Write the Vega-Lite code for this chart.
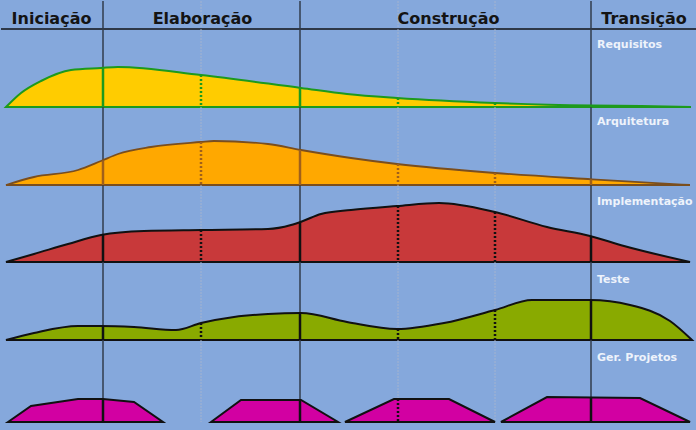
{
  "$schema": "https://vega.github.io/schema/vega-lite/v6.json",
  "background": "#85a8dc",
  "padding": {"left": 0, "right": 0, "top": 0, "bottom": 9},
  "autosize": {"type": "pad"},
  "spacing": 0,
  "bounds": "flush",
  "config": {"view": {"stroke": null}, "concat": {"spacing": 0}},
  "datasets": {
    "lines": [
      {"x": 102, "kind": "phase"}, {"x": 299, "kind": "phase"}, {"x": 590, "kind": "phase"},
      {"x": 200, "kind": "iter"}, {"x": 397, "kind": "iter"}, {"x": 494, "kind": "iter"}
    ],
    "phases": [
      {"name": "Iniciação", "x": 50.5},
      {"name": "Elaboração", "x": 201.5},
      {"name": "Construção", "x": 447.5},
      {"name": "Transição", "x": 643}
    ],
    "curves": [
      {"d": "Requisitos", "g": 1, "x": 5, "h": 0},
      {"d": "Requisitos", "g": 1, "x": 20, "h": 14},
      {"d": "Requisitos", "g": 1, "x": 40, "h": 26},
      {"d": "Requisitos", "g": 1, "x": 70, "h": 37},
      {"d": "Requisitos", "g": 1, "x": 100, "h": 39},
      {"d": "Requisitos", "g": 1, "x": 117, "h": 40},
      {"d": "Requisitos", "g": 1, "x": 200, "h": 32},
      {"d": "Requisitos", "g": 1, "x": 300, "h": 19},
      {"d": "Requisitos", "g": 1, "x": 346, "h": 13},
      {"d": "Requisitos", "g": 1, "x": 396, "h": 9},
      {"d": "Requisitos", "g": 1, "x": 494, "h": 4},
      {"d": "Requisitos", "g": 1, "x": 591, "h": 1.5},
      {"d": "Requisitos", "g": 1, "x": 640, "h": 1},
      {"d": "Requisitos", "g": 1, "x": 690, "h": 0},
      {"d": "Arquitetura", "g": 1, "x": 5, "h": 0},
      {"d": "Arquitetura", "g": 1, "x": 33, "h": 8},
      {"d": "Arquitetura", "g": 1, "x": 77, "h": 15},
      {"d": "Arquitetura", "g": 1, "x": 100, "h": 24},
      {"d": "Arquitetura", "g": 1, "x": 117, "h": 31},
      {"d": "Arquitetura", "g": 1, "x": 150, "h": 38},
      {"d": "Arquitetura", "g": 1, "x": 200, "h": 43},
      {"d": "Arquitetura", "g": 1, "x": 213, "h": 44},
      {"d": "Arquitetura", "g": 1, "x": 267, "h": 41},
      {"d": "Arquitetura", "g": 1, "x": 300, "h": 35},
      {"d": "Arquitetura", "g": 1, "x": 350, "h": 27},
      {"d": "Arquitetura", "g": 1, "x": 396, "h": 21},
      {"d": "Arquitetura", "g": 1, "x": 494, "h": 12},
      {"d": "Arquitetura", "g": 1, "x": 591, "h": 5.7},
      {"d": "Arquitetura", "g": 1, "x": 689, "h": 0},
      {"d": "Implementação", "g": 1, "x": 5, "h": 0},
      {"d": "Implementação", "g": 1, "x": 33, "h": 8},
      {"d": "Implementação", "g": 1, "x": 67, "h": 18},
      {"d": "Implementação", "g": 1, "x": 100, "h": 27},
      {"d": "Implementação", "g": 1, "x": 143, "h": 31},
      {"d": "Implementação", "g": 1, "x": 200, "h": 32},
      {"d": "Implementação", "g": 1, "x": 267, "h": 33},
      {"d": "Implementação", "g": 1, "x": 290, "h": 37},
      {"d": "Implementação", "g": 1, "x": 302, "h": 41},
      {"d": "Implementação", "g": 1, "x": 320, "h": 48},
      {"d": "Implementação", "g": 1, "x": 350, "h": 52},
      {"d": "Implementação", "g": 1, "x": 396, "h": 56},
      {"d": "Implementação", "g": 1, "x": 438, "h": 59},
      {"d": "Implementação", "g": 1, "x": 494, "h": 50},
      {"d": "Implementação", "g": 1, "x": 546, "h": 35},
      {"d": "Implementação", "g": 1, "x": 589, "h": 26},
      {"d": "Implementação", "g": 1, "x": 623, "h": 16},
      {"d": "Implementação", "g": 1, "x": 689, "h": 0},
      {"d": "Teste", "g": 1, "x": 5, "h": 0},
      {"d": "Teste", "g": 1, "x": 33, "h": 7},
      {"d": "Teste", "g": 1, "x": 77, "h": 14},
      {"d": "Teste", "g": 1, "x": 100, "h": 14},
      {"d": "Teste", "g": 1, "x": 133, "h": 13},
      {"d": "Teste", "g": 1, "x": 175, "h": 10},
      {"d": "Teste", "g": 1, "x": 200, "h": 17},
      {"d": "Teste", "g": 1, "x": 233, "h": 23},
      {"d": "Teste", "g": 1, "x": 267, "h": 26},
      {"d": "Teste", "g": 1, "x": 300, "h": 27},
      {"d": "Teste", "g": 1, "x": 346, "h": 18},
      {"d": "Teste", "g": 1, "x": 396, "h": 11},
      {"d": "Teste", "g": 1, "x": 443, "h": 17},
      {"d": "Teste", "g": 1, "x": 494, "h": 30},
      {"d": "Teste", "g": 1, "x": 531, "h": 40},
      {"d": "Teste", "g": 1, "x": 589, "h": 40},
      {"d": "Teste", "g": 1, "x": 629, "h": 35},
      {"d": "Teste", "g": 1, "x": 669, "h": 19},
      {"d": "Teste", "g": 1, "x": 691, "h": 0},
      {"d": "Ger. Projetos", "g": 1, "x": 7, "h": 0},
      {"d": "Ger. Projetos", "g": 1, "x": 30, "h": 16},
      {"d": "Ger. Projetos", "g": 1, "x": 77, "h": 23},
      {"d": "Ger. Projetos", "g": 1, "x": 102, "h": 23},
      {"d": "Ger. Projetos", "g": 1, "x": 133, "h": 20},
      {"d": "Ger. Projetos", "g": 1, "x": 162, "h": 0},
      {"d": "Ger. Projetos", "g": 2, "x": 210, "h": 0},
      {"d": "Ger. Projetos", "g": 2, "x": 240, "h": 22},
      {"d": "Ger. Projetos", "g": 2, "x": 300, "h": 22},
      {"d": "Ger. Projetos", "g": 2, "x": 337, "h": 0},
      {"d": "Ger. Projetos", "g": 3, "x": 344, "h": 0},
      {"d": "Ger. Projetos", "g": 3, "x": 393, "h": 23},
      {"d": "Ger. Projetos", "g": 3, "x": 448, "h": 23},
      {"d": "Ger. Projetos", "g": 3, "x": 494, "h": 0},
      {"d": "Ger. Projetos", "g": 4, "x": 500, "h": 0},
      {"d": "Ger. Projetos", "g": 4, "x": 546, "h": 25},
      {"d": "Ger. Projetos", "g": 4, "x": 639, "h": 24},
      {"d": "Ger. Projetos", "g": 4, "x": 689, "h": 0}
    ],
    "inner": [
      {"d": "Requisitos", "kind": "phase", "x": 102, "h": 39.2},
      {"d": "Requisitos", "kind": "phase", "x": 299, "h": 19},
      {"d": "Requisitos", "kind": "phase", "x": 590, "h": 1.5},
      {"d": "Requisitos", "kind": "iter", "x": 200, "h": 32},
      {"d": "Requisitos", "kind": "iter", "x": 397, "h": 9},
      {"d": "Requisitos", "kind": "iter", "x": 494, "h": 4},
      {"d": "Arquitetura", "kind": "phase", "x": 102, "h": 24.5},
      {"d": "Arquitetura", "kind": "phase", "x": 299, "h": 35},
      {"d": "Arquitetura", "kind": "phase", "x": 590, "h": 5.7},
      {"d": "Arquitetura", "kind": "iter", "x": 200, "h": 43},
      {"d": "Arquitetura", "kind": "iter", "x": 397, "h": 21},
      {"d": "Arquitetura", "kind": "iter", "x": 494, "h": 12},
      {"d": "Implementação", "kind": "phase", "x": 102, "h": 27.3},
      {"d": "Implementação", "kind": "phase", "x": 299, "h": 40},
      {"d": "Implementação", "kind": "phase", "x": 590, "h": 26},
      {"d": "Implementação", "kind": "iter", "x": 200, "h": 32},
      {"d": "Implementação", "kind": "iter", "x": 397, "h": 56},
      {"d": "Implementação", "kind": "iter", "x": 494, "h": 50},
      {"d": "Teste", "kind": "phase", "x": 102, "h": 14},
      {"d": "Teste", "kind": "phase", "x": 299, "h": 27},
      {"d": "Teste", "kind": "phase", "x": 590, "h": 40},
      {"d": "Teste", "kind": "iter", "x": 200, "h": 17},
      {"d": "Teste", "kind": "iter", "x": 397, "h": 11},
      {"d": "Teste", "kind": "iter", "x": 494, "h": 30},
      {"d": "Ger. Projetos", "kind": "phase", "x": 102, "h": 23},
      {"d": "Ger. Projetos", "kind": "phase", "x": 299, "h": 22},
      {"d": "Ger. Projetos", "kind": "phase", "x": 590, "h": 24},
      {"d": "Ger. Projetos", "kind": "iter", "x": 397, "h": 23}
    ]
  },
  "vconcat": [
    {
      "width": 696, "height": 28,
      "layer": [
        {"data": {"name": "lines"}, "transform": [{"filter": "datum.kind == 'iter'"}],
         "mark": {"type": "rule", "color": "#a3b3cf", "strokeWidth": 1, "strokeDash": [2, 1]},
         "encoding": {"x": {"field": "x", "type": "quantitative", "scale": {"domain": [0, 696], "nice": false}, "axis": null}}},
        {"data": {"name": "lines"}, "transform": [{"filter": "datum.kind == 'phase'"}],
         "mark": {"type": "rule", "color": "#323c4c", "strokeWidth": 1.5},
         "encoding": {"x": {"field": "x", "type": "quantitative", "scale": {"domain": [0, 696], "nice": false}, "axis": null}}},
        {"data": {"values": [{"b": 0}]},
         "mark": {"type": "rule", "color": "#2e3848", "strokeWidth": 2},
         "encoding": {"y": {"field": "b", "type": "quantitative", "scale": {"domain": [0, 28], "nice": false}, "axis": null}}},
        {"data": {"name": "phases"},
         "mark": {"type": "text", "font": "DejaVu Sans", "fontWeight": "bold", "fontSize": 16, "color": "#141414", "baseline": "alphabetic", "align": "center"},
         "encoding": {"x": {"field": "x", "type": "quantitative", "scale": {"domain": [0, 696], "nice": false}, "axis": null},
                      "y": {"datum": 5, "type": "quantitative", "scale": {"domain": [0, 28], "nice": false}, "axis": null},
                      "text": {"field": "name", "type": "nominal"}}}
      ]
    },
    {
      "width": 696, "height": 78,
      "layer": [
        {"data": {"name": "lines"}, "transform": [{"filter": "datum.kind == 'iter'"}],
         "mark": {"type": "rule", "color": "#a3b3cf", "strokeWidth": 1, "strokeDash": [2, 1]},
         "encoding": {"x": {"field": "x", "type": "quantitative", "scale": {"domain": [0, 696], "nice": false}, "axis": null}}},
        {"data": {"name": "lines"}, "transform": [{"filter": "datum.kind == 'phase'"}],
         "mark": {"type": "rule", "color": "#323c4c", "strokeWidth": 1.5},
         "encoding": {"x": {"field": "x", "type": "quantitative", "scale": {"domain": [0, 696], "nice": false}, "axis": null}}},
        {"data": {"name": "curves"}, "transform": [{"filter": "datum.d == 'Requisitos'"}],
         "mark": {"type": "area", "fill": "#ffcc00", "fillOpacity": 1, "stroke": "#1d9a1d", "strokeWidth": 2, "interpolate": "monotone"},
         "encoding": {"x": {"field": "x", "type": "quantitative", "scale": {"domain": [0, 696], "nice": false}, "axis": null},
                      "y": {"field": "h", "type": "quantitative", "stack": null, "scale": {"domain": [0, 78], "nice": false}, "axis": null},
                      "detail": {"field": "g", "type": "nominal"}}},
        {"data": {"name": "inner"}, "transform": [{"filter": "datum.d == 'Requisitos' && datum.kind == 'phase'"}],
         "mark": {"type": "rule", "color": "#1d9a1d", "strokeWidth": 2.5},
         "encoding": {"x": {"field": "x", "type": "quantitative", "scale": {"domain": [0, 696], "nice": false}, "axis": null},
                      "y": {"field": "h", "type": "quantitative", "scale": {"domain": [0, 78], "nice": false}, "axis": null},
                      "y2": {"datum": 0}}},
        {"data": {"name": "inner"}, "transform": [{"filter": "datum.d == 'Requisitos' && datum.kind == 'iter'"}],
         "mark": {"type": "rule", "color": "#1d9a1d", "strokeWidth": 2.5, "strokeDash": [2, 2]},
         "encoding": {"x": {"field": "x", "type": "quantitative", "scale": {"domain": [0, 696], "nice": false}, "axis": null},
                      "y": {"field": "h", "type": "quantitative", "scale": {"domain": [0, 78], "nice": false}, "axis": null},
                      "y2": {"datum": 0}}},
        {"data": {"values": [{"label": "Requisitos", "x": 590, "y": 62}]},
         "mark": {"type": "text", "font": "DejaVu Sans", "fontWeight": "bold", "fontSize": 11, "color": "#eef3fb", "align": "left", "baseline": "middle", "dx": 6},
         "encoding": {"x": {"field": "x", "type": "quantitative", "scale": {"domain": [0, 696], "nice": false}, "axis": null},
                      "y": {"field": "y", "type": "quantitative", "scale": {"domain": [0, 78], "nice": false}, "axis": null},
                      "text": {"field": "label", "type": "nominal"}}}
      ]
    },
    {
      "width": 696, "height": 78,
      "layer": [
        {"data": {"name": "lines"}, "transform": [{"filter": "datum.kind == 'iter'"}],
         "mark": {"type": "rule", "color": "#a3b3cf", "strokeWidth": 1, "strokeDash": [2, 1]},
         "encoding": {"x": {"field": "x", "type": "quantitative", "scale": {"domain": [0, 696], "nice": false}, "axis": null}}},
        {"data": {"name": "lines"}, "transform": [{"filter": "datum.kind == 'phase'"}],
         "mark": {"type": "rule", "color": "#323c4c", "strokeWidth": 1.5},
         "encoding": {"x": {"field": "x", "type": "quantitative", "scale": {"domain": [0, 696], "nice": false}, "axis": null}}},
        {"data": {"name": "curves"}, "transform": [{"filter": "datum.d == 'Arquitetura'"}],
         "mark": {"type": "area", "fill": "#ffa800", "fillOpacity": 1, "stroke": "#7a4e1e", "strokeWidth": 1.8, "interpolate": "monotone"},
         "encoding": {"x": {"field": "x", "type": "quantitative", "scale": {"domain": [0, 696], "nice": false}, "axis": null},
                      "y": {"field": "h", "type": "quantitative", "stack": null, "scale": {"domain": [0, 78], "nice": false}, "axis": null},
                      "detail": {"field": "g", "type": "nominal"}}},
        {"data": {"name": "inner"}, "transform": [{"filter": "datum.d == 'Arquitetura' && datum.kind == 'phase'"}],
         "mark": {"type": "rule", "color": "#a0601a", "strokeWidth": 2.5},
         "encoding": {"x": {"field": "x", "type": "quantitative", "scale": {"domain": [0, 696], "nice": false}, "axis": null},
                      "y": {"field": "h", "type": "quantitative", "scale": {"domain": [0, 78], "nice": false}, "axis": null},
                      "y2": {"datum": 0}}},
        {"data": {"name": "inner"}, "transform": [{"filter": "datum.d == 'Arquitetura' && datum.kind == 'iter'"}],
         "mark": {"type": "rule", "color": "#a0601a", "strokeWidth": 2.5, "strokeDash": [2, 2]},
         "encoding": {"x": {"field": "x", "type": "quantitative", "scale": {"domain": [0, 696], "nice": false}, "axis": null},
                      "y": {"field": "h", "type": "quantitative", "scale": {"domain": [0, 78], "nice": false}, "axis": null},
                      "y2": {"datum": 0}}},
        {"data": {"values": [{"label": "Arquitetura", "x": 590, "y": 63}]},
         "mark": {"type": "text", "font": "DejaVu Sans", "fontWeight": "bold", "fontSize": 11, "color": "#eef3fb", "align": "left", "baseline": "middle", "dx": 6},
         "encoding": {"x": {"field": "x", "type": "quantitative", "scale": {"domain": [0, 696], "nice": false}, "axis": null},
                      "y": {"field": "y", "type": "quantitative", "scale": {"domain": [0, 78], "nice": false}, "axis": null},
                      "text": {"field": "label", "type": "nominal"}}}
      ]
    },
    {
      "width": 696, "height": 77,
      "layer": [
        {"data": {"name": "lines"}, "transform": [{"filter": "datum.kind == 'iter'"}],
         "mark": {"type": "rule", "color": "#a3b3cf", "strokeWidth": 1, "strokeDash": [2, 1]},
         "encoding": {"x": {"field": "x", "type": "quantitative", "scale": {"domain": [0, 696], "nice": false}, "axis": null}}},
        {"data": {"name": "lines"}, "transform": [{"filter": "datum.kind == 'phase'"}],
         "mark": {"type": "rule", "color": "#323c4c", "strokeWidth": 1.5},
         "encoding": {"x": {"field": "x", "type": "quantitative", "scale": {"domain": [0, 696], "nice": false}, "axis": null}}},
        {"data": {"name": "curves"}, "transform": [{"filter": "datum.d == 'Implementação'"}],
         "mark": {"type": "area", "fill": "#c8393a", "fillOpacity": 1, "stroke": "#111111", "strokeWidth": 2, "interpolate": "monotone"},
         "encoding": {"x": {"field": "x", "type": "quantitative", "scale": {"domain": [0, 696], "nice": false}, "axis": null},
                      "y": {"field": "h", "type": "quantitative", "stack": null, "scale": {"domain": [0, 77], "nice": false}, "axis": null},
                      "detail": {"field": "g", "type": "nominal"}}},
        {"data": {"name": "inner"}, "transform": [{"filter": "datum.d == 'Implementação' && datum.kind == 'phase'"}],
         "mark": {"type": "rule", "color": "#111111", "strokeWidth": 2.5},
         "encoding": {"x": {"field": "x", "type": "quantitative", "scale": {"domain": [0, 696], "nice": false}, "axis": null},
                      "y": {"field": "h", "type": "quantitative", "scale": {"domain": [0, 77], "nice": false}, "axis": null},
                      "y2": {"datum": 0}}},
        {"data": {"name": "inner"}, "transform": [{"filter": "datum.d == 'Implementação' && datum.kind == 'iter'"}],
         "mark": {"type": "rule", "color": "#111111", "strokeWidth": 2.5, "strokeDash": [2, 2]},
         "encoding": {"x": {"field": "x", "type": "quantitative", "scale": {"domain": [0, 696], "nice": false}, "axis": null},
                      "y": {"field": "h", "type": "quantitative", "scale": {"domain": [0, 77], "nice": false}, "axis": null},
                      "y2": {"datum": 0}}},
        {"data": {"values": [{"label": "Implementação", "x": 590, "y": 60.5}]},
         "mark": {"type": "text", "font": "DejaVu Sans", "fontWeight": "bold", "fontSize": 11, "color": "#eef3fb", "align": "left", "baseline": "middle", "dx": 6},
         "encoding": {"x": {"field": "x", "type": "quantitative", "scale": {"domain": [0, 696], "nice": false}, "axis": null},
                      "y": {"field": "y", "type": "quantitative", "scale": {"domain": [0, 77], "nice": false}, "axis": null},
                      "text": {"field": "label", "type": "nominal"}}}
      ]
    },
    {
      "width": 696, "height": 78,
      "layer": [
        {"data": {"name": "lines"}, "transform": [{"filter": "datum.kind == 'iter'"}],
         "mark": {"type": "rule", "color": "#a3b3cf", "strokeWidth": 1, "strokeDash": [2, 1]},
         "encoding": {"x": {"field": "x", "type": "quantitative", "scale": {"domain": [0, 696], "nice": false}, "axis": null}}},
        {"data": {"name": "lines"}, "transform": [{"filter": "datum.kind == 'phase'"}],
         "mark": {"type": "rule", "color": "#323c4c", "strokeWidth": 1.5},
         "encoding": {"x": {"field": "x", "type": "quantitative", "scale": {"domain": [0, 696], "nice": false}, "axis": null}}},
        {"data": {"name": "curves"}, "transform": [{"filter": "datum.d == 'Teste'"}],
         "mark": {"type": "area", "fill": "#89aa00", "fillOpacity": 1, "stroke": "#111111", "strokeWidth": 2, "interpolate": "monotone"},
         "encoding": {"x": {"field": "x", "type": "quantitative", "scale": {"domain": [0, 696], "nice": false}, "axis": null},
                      "y": {"field": "h", "type": "quantitative", "stack": null, "scale": {"domain": [0, 78], "nice": false}, "axis": null},
                      "detail": {"field": "g", "type": "nominal"}}},
        {"data": {"name": "inner"}, "transform": [{"filter": "datum.d == 'Teste' && datum.kind == 'phase'"}],
         "mark": {"type": "rule", "color": "#111111", "strokeWidth": 2.5},
         "encoding": {"x": {"field": "x", "type": "quantitative", "scale": {"domain": [0, 696], "nice": false}, "axis": null},
                      "y": {"field": "h", "type": "quantitative", "scale": {"domain": [0, 78], "nice": false}, "axis": null},
                      "y2": {"datum": 0}}},
        {"data": {"name": "inner"}, "transform": [{"filter": "datum.d == 'Teste' && datum.kind == 'iter'"}],
         "mark": {"type": "rule", "color": "#111111", "strokeWidth": 2.5, "strokeDash": [2, 2]},
         "encoding": {"x": {"field": "x", "type": "quantitative", "scale": {"domain": [0, 696], "nice": false}, "axis": null},
                      "y": {"field": "h", "type": "quantitative", "scale": {"domain": [0, 78], "nice": false}, "axis": null},
                      "y2": {"datum": 0}}},
        {"data": {"values": [{"label": "Teste", "x": 590, "y": 60}]},
         "mark": {"type": "text", "font": "DejaVu Sans", "fontWeight": "bold", "fontSize": 11, "color": "#eef3fb", "align": "left", "baseline": "middle", "dx": 6},
         "encoding": {"x": {"field": "x", "type": "quantitative", "scale": {"domain": [0, 696], "nice": false}, "axis": null},
                      "y": {"field": "y", "type": "quantitative", "scale": {"domain": [0, 78], "nice": false}, "axis": null},
                      "text": {"field": "label", "type": "nominal"}}}
      ]
    },
    {
      "width": 696, "height": 82,
      "layer": [
        {"data": {"name": "lines"}, "transform": [{"filter": "datum.kind == 'iter'"}],
         "mark": {"type": "rule", "color": "#a3b3cf", "strokeWidth": 1, "strokeDash": [2, 1]},
         "encoding": {"x": {"field": "x", "type": "quantitative", "scale": {"domain": [0, 696], "nice": false}, "axis": null}}},
        {"data": {"name": "lines"}, "transform": [{"filter": "datum.kind == 'phase'"}],
         "mark": {"type": "rule", "color": "#323c4c", "strokeWidth": 1.5},
         "encoding": {"x": {"field": "x", "type": "quantitative", "scale": {"domain": [0, 696], "nice": false}, "axis": null}}},
        {"data": {"name": "curves"}, "transform": [{"filter": "datum.d == 'Ger. Projetos'"}],
         "mark": {"type": "area", "fill": "#d200a2", "fillOpacity": 1, "stroke": "#111111", "strokeWidth": 2, "interpolate": "linear"},
         "encoding": {"x": {"field": "x", "type": "quantitative", "scale": {"domain": [0, 696], "nice": false}, "axis": null},
                      "y": {"field": "h", "type": "quantitative", "stack": null, "scale": {"domain": [0, 82], "nice": false}, "axis": null},
                      "detail": {"field": "g", "type": "nominal"}}},
        {"data": {"name": "inner"}, "transform": [{"filter": "datum.d == 'Ger. Projetos' && datum.kind == 'phase'"}],
         "mark": {"type": "rule", "color": "#111111", "strokeWidth": 2.5},
         "encoding": {"x": {"field": "x", "type": "quantitative", "scale": {"domain": [0, 696], "nice": false}, "axis": null},
                      "y": {"field": "h", "type": "quantitative", "scale": {"domain": [0, 82], "nice": false}, "axis": null},
                      "y2": {"datum": 0}}},
        {"data": {"name": "inner"}, "transform": [{"filter": "datum.d == 'Ger. Projetos' && datum.kind == 'iter'"}],
         "mark": {"type": "rule", "color": "#111111", "strokeWidth": 2.5, "strokeDash": [2, 2]},
         "encoding": {"x": {"field": "x", "type": "quantitative", "scale": {"domain": [0, 696], "nice": false}, "axis": null},
                      "y": {"field": "h", "type": "quantitative", "scale": {"domain": [0, 82], "nice": false}, "axis": null},
                      "y2": {"datum": 0}}},
        {"data": {"values": [{"label": "Ger. Projetos", "x": 590, "y": 64}]},
         "mark": {"type": "text", "font": "DejaVu Sans", "fontWeight": "bold", "fontSize": 11, "color": "#eef3fb", "align": "left", "baseline": "middle", "dx": 6},
         "encoding": {"x": {"field": "x", "type": "quantitative", "scale": {"domain": [0, 696], "nice": false}, "axis": null},
                      "y": {"field": "y", "type": "quantitative", "scale": {"domain": [0, 82], "nice": false}, "axis": null},
                      "text": {"field": "label", "type": "nominal"}}}
      ]
    }
  ]
}
